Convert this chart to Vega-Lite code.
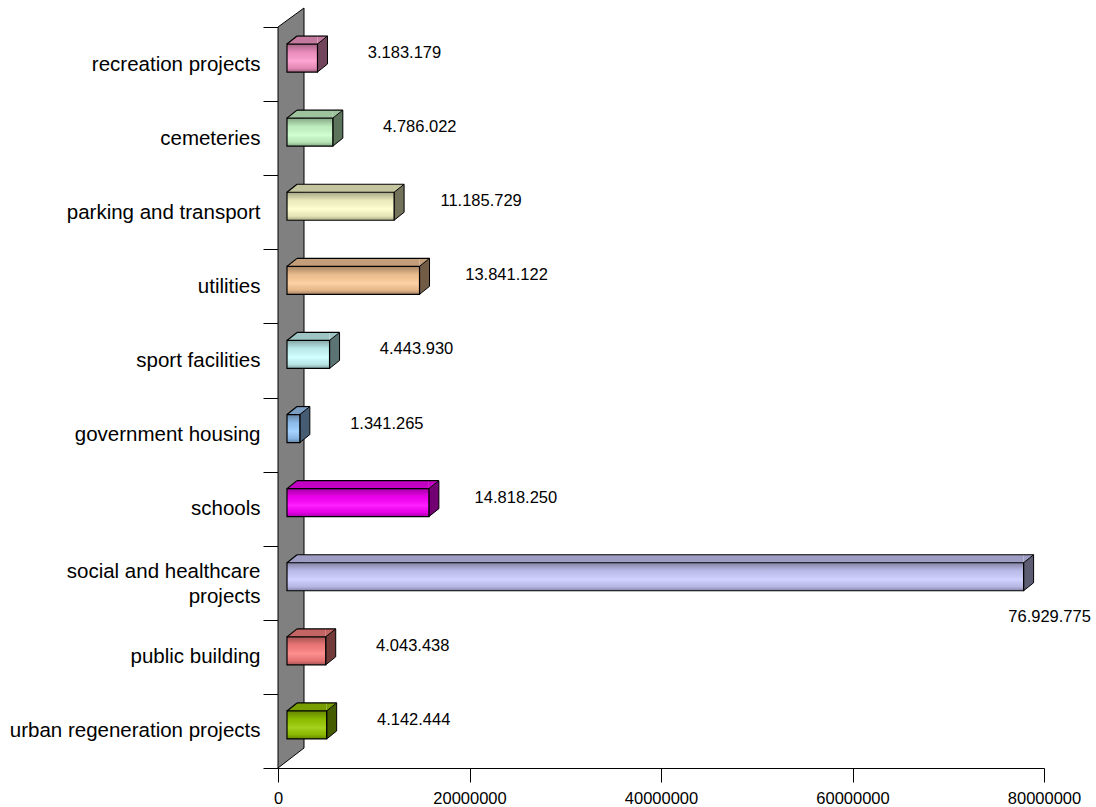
{
  "$schema": "https://vega.github.io/schema/vega-lite/v6.json",
  "width": 766,
  "height": 741,
  "autosize": "none",
  "padding": {"left": 278, "top": 27, "right": 52, "bottom": 39},
  "background": "white",
  "config": {
    "view": {"stroke": null},
    "font": "Liberation Sans",
    "axis": {"labelFont": "Liberation Sans", "labelColor": "#000000", "domainColor": "#000000", "tickColor": "#000000", "grid": false, "title": null}
  },
  "data": {
    "values": [
      {"category": "recreation projects", "value": 3183179, "label": "3.183.179"},
      {"category": "cemeteries", "value": 4786022, "label": "4.786.022"},
      {"category": "parking and transport", "value": 11185729, "label": "11.185.729"},
      {"category": "utilities", "value": 13841122, "label": "13.841.122"},
      {"category": "sport facilities", "value": 4443930, "label": "4.443.930"},
      {"category": "government housing", "value": 1341265, "label": "1.341.265"},
      {"category": "schools", "value": 14818250, "label": "14.818.250"},
      {"category": "social and healthcare projects", "value": 76929775, "label": "76.929.775"},
      {"category": "public building", "value": 4043438, "label": "4.043.438"},
      {"category": "urban regeneration projects", "value": 4142444, "label": "4.142.444"}
    ]
  },
  "layer": [
    {
      "data": {"values": [{"part": "wall"}]},
      "mark": {"type": "point", "shape": "M0,-370.5L0,370.5L26,350.5L26,-389.5Z", "size": 4, "filled": true, "fill": "#808080", "stroke": "#000000", "strokeWidth": 1, "opacity": 1},
      "encoding": {"x": {"datum": 0, "type": "quantitative"}}
    },
    {
      "encoding": {
        "y": {
          "field": "category", "type": "nominal", "sort": null,
          "scale": {"paddingInner": 0, "paddingOuter": 0},
          "axis": {
            "tickBand": "extent", "tickSize": 15, "labelPadding": 3, "labelFontSize": 20.5, "labelLimit": 0, "labelLineHeight": 25,
            "labelOffset": {"condition": {"test": "datum.value == 'social and healthcare projects'", "value": -11}, "value": 0},
            "labelExpr": "datum.value == 'social and healthcare projects' ? ['social and healthcare', 'projects\u00a0\u00a0\u00a0\u00a0\u00a0\u00a0\u00a0\u00a0\u00a0\u00a0\u00a0'] : datum.value"
          }
        },
        "x": {
          "field": "value", "type": "quantitative",
          "scale": {"domain": [0, 80000000], "nice": false, "zero": true},
          "axis": {"values": [0, 20000000, 40000000, 60000000, 80000000], "format": "d", "labelFontSize": 16.5, "tickSize": 14, "labelPadding": 8, "labelFlush": false}
        }
      },
      "layer": [
        {
          "mark": {"type": "bar", "height": 8, "xOffset": 9, "x2Offset": 19, "yOffset": -24},
          "encoding": {"x2": {"datum": 0}, "color": {"field": "category", "type": "nominal", "legend": null,
            "scale": {"domain": ["recreation projects", "cemeteries", "parking and transport", "utilities", "sport facilities", "government housing", "schools", "social and healthcare projects", "public building", "urban regeneration projects"],
                      "range": ["#C47A9E", "#9EC49E", "#C4C49E", "#C49E7A", "#9EC4C4", "#7A9EC4", "#C400C4", "#9E9EC4", "#C46464", "#789E00"]}}}
        },
        {
          "mark": {"type": "point", "shape": "M9,-20L19,-28L19,-20Z", "size": 4, "filled": true, "opacity": 1, "strokeWidth": 0},
          "encoding": {"x": {"datum": 0, "type": "quantitative"}, "color": {"field": "category", "type": "nominal", "legend": null,
            "scale": {"domain": ["recreation projects", "cemeteries", "parking and transport", "utilities", "sport facilities", "government housing", "schools", "social and healthcare projects", "public building", "urban regeneration projects"],
                      "range": ["#C47A9E", "#9EC49E", "#C4C49E", "#C49E7A", "#9EC4C4", "#7A9EC4", "#C400C4", "#9E9EC4", "#C46464", "#789E00"]}}}
        },
        {
          "mark": {"type": "point", "shape": "M9,-20L9,-28L19,-28Z", "size": 4, "filled": true, "opacity": 1, "strokeWidth": 0},
          "encoding": {"color": {"field": "category", "type": "nominal", "legend": null,
            "scale": {"domain": ["recreation projects", "cemeteries", "parking and transport", "utilities", "sport facilities", "government housing", "schools", "social and healthcare projects", "public building", "urban regeneration projects"],
                      "range": ["#C47A9E", "#9EC49E", "#C4C49E", "#C49E7A", "#9EC4C4", "#7A9EC4", "#C400C4", "#9E9EC4", "#C46464", "#789E00"]}}}
        },
        {
          "mark": {"type": "point", "shape": "M9,-20L19,-28L19,0L9,8Z", "size": 4, "filled": true, "opacity": 1, "stroke": "#000000", "strokeWidth": 1},
          "encoding": {"color": {"field": "category", "type": "nominal", "legend": null,
            "scale": {"domain": ["recreation projects", "cemeteries", "parking and transport", "utilities", "sport facilities", "government housing", "schools", "social and healthcare projects", "public building", "urban regeneration projects"],
                      "range": ["#73455C", "#5C735C", "#73735C", "#735C45", "#5C7373", "#455C73", "#730073", "#5C5C73", "#733A3A", "#455C00"]}}}
        },
        {
          "mark": {"type": "bar", "height": 28, "xOffset": 9, "x2Offset": 9, "yOffset": -6},
          "encoding": {"x2": {"datum": 0}, "color": {"field": "category", "type": "nominal", "legend": null,
            "scale": {"domain": ["recreation projects", "cemeteries", "parking and transport", "utilities", "sport facilities", "government housing", "schools", "social and healthcare projects", "public building", "urban regeneration projects"],
                      "range": ["#FF99CC", "#CCFFCC", "#FFFFCC", "#FFCC99", "#CCFFFF", "#99CCFF", "#FF00FF", "#CCCCFF", "#FF8080", "#99CC00"]}}}
        },
        {
          "mark": {"type": "bar", "height": 28, "xOffset": 9, "x2Offset": 9, "yOffset": -6, "stroke": "#000000", "strokeWidth": 1.2,
            "fill": {"gradient": "linear", "x1": 0, "y1": 0, "x2": 0, "y2": 1,
              "stops": [
                {"offset": 0, "color": "rgba(0,0,0,0.35)"},
                {"offset": 0.3, "color": "rgba(0,0,0,0.08)"},
                {"offset": 0.6, "color": "rgba(255,255,255,0.12)"},
                {"offset": 0.85, "color": "rgba(0,0,0,0.1)"},
                {"offset": 1, "color": "rgba(0,0,0,0.35)"}
              ]}},
          "encoding": {"x2": {"datum": 0}}
        },
        {
          "mark": {"type": "rule", "xOffset": 19, "x2Offset": 19, "yOffset": -28, "color": "#000000", "strokeWidth": 1.2},
          "encoding": {"x2": {"datum": 0}}
        },
        {
          "mark": {"type": "point", "shape": "M9,-20L19,-28", "size": 4, "filled": false, "color": "#000000", "opacity": 1, "strokeWidth": 1.2},
          "encoding": {"x": {"datum": 0, "type": "quantitative"}}
        },
        {
          "transform": [{"filter": "datum.value < 50000000"}],
          "mark": {"type": "text", "align": "center", "baseline": "middle", "dx": 96, "dy": -11, "fontSize": 16.5, "font": "Liberation Sans", "color": "#000000"},
          "encoding": {"text": {"field": "label"}}
        },
        {
          "transform": [{"filter": "datum.value >= 50000000"}],
          "mark": {"type": "text", "align": "center", "baseline": "middle", "dx": 35, "dy": 34, "fontSize": 16.5, "font": "Liberation Sans", "color": "#000000"},
          "encoding": {"text": {"field": "label"}}
        }
      ],
      "resolve": {"scale": {"color": "independent"}}
    }
  ]
}
